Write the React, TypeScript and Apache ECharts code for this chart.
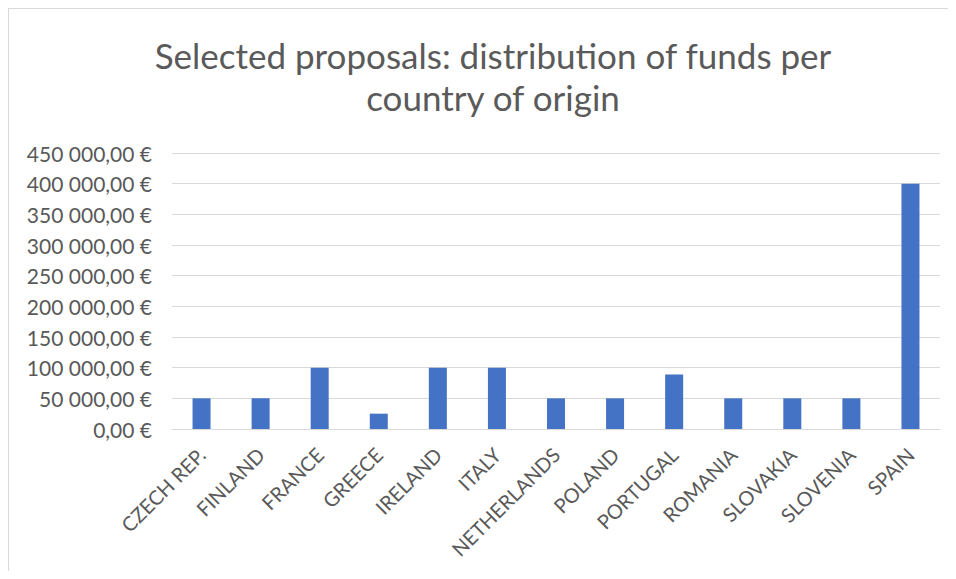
import React, { useEffect, useRef } from "react";
import * as echarts from "echarts";

const titleText = "Selected proposals: distribution of funds per\ncountry of origin";
const countries = [
  "CZECH REP.",
  "FINLAND",
  "FRANCE",
  "GREECE",
  "IRELAND",
  "ITALY",
  "NETHERLANDS",
  "POLAND",
  "PORTUGAL",
  "ROMANIA",
  "SLOVAKIA",
  "SLOVENIA",
  "SPAIN",
];
const funds = [50000, 50000, 100000, 25000, 100000, 100000, 50000, 50000, 89000, 50000, 50000, 50000, 400000];
const yMin = 0;
const yMax = 450000;
const yStep = 50000;

function formatEuro(v: number): string {
  const fixed = v.toFixed(2);
  const [intPart, dec] = fixed.split(".");
  const grouped = intPart.replace(/\B(?=(\d{3})+(?!\d))/g, " ");
  return `${grouped},${dec} €`;
}

export default function App() {
  const ref = useRef<HTMLDivElement>(null);
  useEffect(() => {
    if (!ref.current) return;
    const chart = echarts.init(ref.current, undefined, { renderer: "svg" });
    chart.setOption({
      animation: false,
      backgroundColor: "#ffffff",
      textStyle: { fontFamily: "Lato" },
      title: {
        text: titleText,
        left: 479,
        top: 20,
        textAlign: "center",
        textStyle: {
          fontFamily: "Lato",
          fontSize: 35,
          fontWeight: "normal",
          color: "#5a5a5a",
          lineHeight: 42,
        },
      },
      grid: { left: 163, top: 144, width: 768, height: 276, containLabel: false },
      xAxis: {
        type: "category",
        data: countries,
        axisLine: { show: true, lineStyle: { color: "#d9d9d9", width: 1 } },
        axisTick: { show: false },
        axisLabel: {
          rotate: 45,
          interval: 0,
          margin: 22,
          color: "#595959",
          fontFamily: "Lato",
          fontSize: 20,
        },
      },
      yAxis: {
        type: "value",
        min: yMin,
        max: yMax,
        interval: yStep,
        axisLine: { show: false },
        axisTick: { show: false },
        splitLine: { show: true, lineStyle: { color: "#d9d9d9", width: 1 } },
        axisLabel: {
          margin: 20,
          color: "#595959",
          fontFamily: "Lato",
          fontSize: 21,
          formatter: (v: number) => formatEuro(v),
        },
      },
      series: [
        {
          type: "bar",
          data: funds,
          barWidth: 18,
          itemStyle: { color: "#4472C4" },
        },
      ],
    });
    return () => chart.dispose();
  }, []);
  return (
    <div
      style={{
        width: 948,
        height: 563,
        boxSizing: "border-box",
        borderTop: "1px solid #d9d9d9",
        borderLeft: "1px solid #d9d9d9",
        background: "#fff",
      }}
    >
      <div ref={ref} style={{ width: 947, height: 562 }} />
    </div>
  );
}
